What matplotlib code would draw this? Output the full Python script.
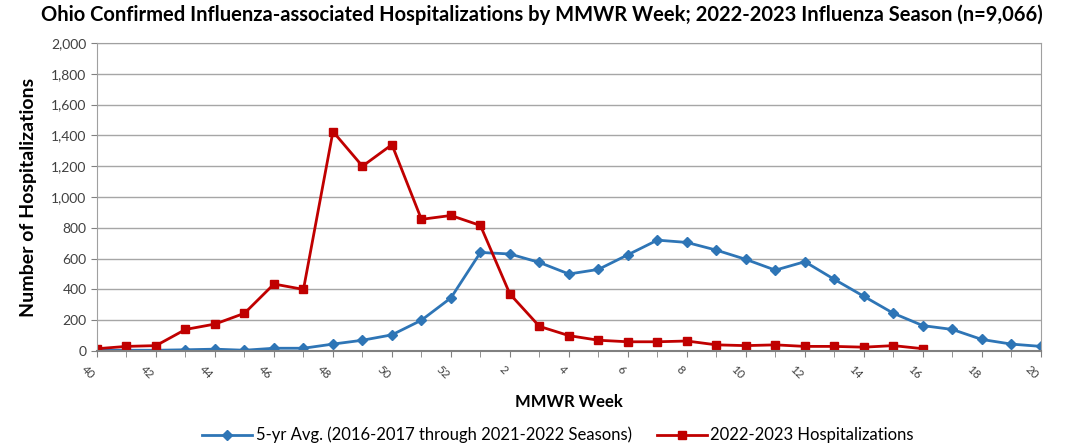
import matplotlib.pyplot as plt

plt.rcParams['font.family'] = ['Lato', 'DejaVu Sans']

weeks = list(range(40, 53)) + list(range(1, 21))
avg_5yr = [5, 5, 5, 8, 12, 5, 18, 18, 45, 70, 105, 200, 345,
           640, 630, 575, 500, 530, 625, 720, 705, 655, 595, 525, 580,
           465, 355, 245, 165, 140, 75, 45, 30]
hosp_2223 = [15, 30, 35, 140, 175, 245, 435, 400, 1425, 1200, 1340, 855, 880,
             815, 370, 160, 100, 70, 60, 60, 65, 40, 35, 40, 30,
             30, 25, 35, 15]

fig = plt.figure(figsize=(10.73, 4.45), dpi=100)
ax = fig.add_axes([0.0904, 0.2112, 0.8796, 0.6922])

x = list(range(len(weeks)))
ax.plot(x, avg_5yr, color='#2E75B6', lw=2, marker='D', ms=5,
        label='5-yr Avg. (2016-2017 through 2021-2022 Seasons)')
ax.plot(x[:len(hosp_2223)], hosp_2223, color='#C00000', lw=2, marker='s', ms=6,
        label='2022-2023 Hospitalizations')

ax.set_xlim(0, len(weeks) - 1)
ax.set_ylim(0, 2000)
ax.set_yticks(range(0, 2001, 200))
ax.set_yticklabels([f'{v:,}' for v in range(0, 2001, 200)], fontsize=10, color='#404040')
ax.set_xticks(x[::2])
ax.set_xticklabels([str(w) for w in weeks[::2]], rotation=-45, ha='right',
                   fontsize=8.5, color='#404040')
ax.set_xticks(x, minor=True)
ax.tick_params(axis='x', which='both', length=4, color='#808080', direction='out', pad=5)
ax.tick_params(axis='y', length=4, color='#808080', direction='out')
ax.grid(axis='y', color='#A6A6A6', lw=1)
ax.set_axisbelow(True)
for s in ax.spines.values():
    s.set_color('#A0A0A0')
ax.spines['bottom'].set_color('#808080')
ax.spines['bottom'].set_linewidth(1.5)

ax.set_xlabel('MMWR Week', fontsize=12, fontweight='bold', labelpad=9)
ax.set_ylabel('Number of Hospitalizations', fontsize=14, fontweight='bold', labelpad=10)
fig.suptitle('Ohio Confirmed Influenza-associated Hospitalizations by MMWR Week; 2022-2023 Influenza Season (n=9,066)',
             fontsize=14.5, fontweight='bold', x=0.505, y=0.99)
fig.legend(loc='lower center', bbox_to_anchor=(0.52, -0.03), ncol=2, frameon=False,
           fontsize=12, handlelength=3, handletextpad=0.2, columnspacing=1.5)

fig.savefig('out.png', dpi=100)
